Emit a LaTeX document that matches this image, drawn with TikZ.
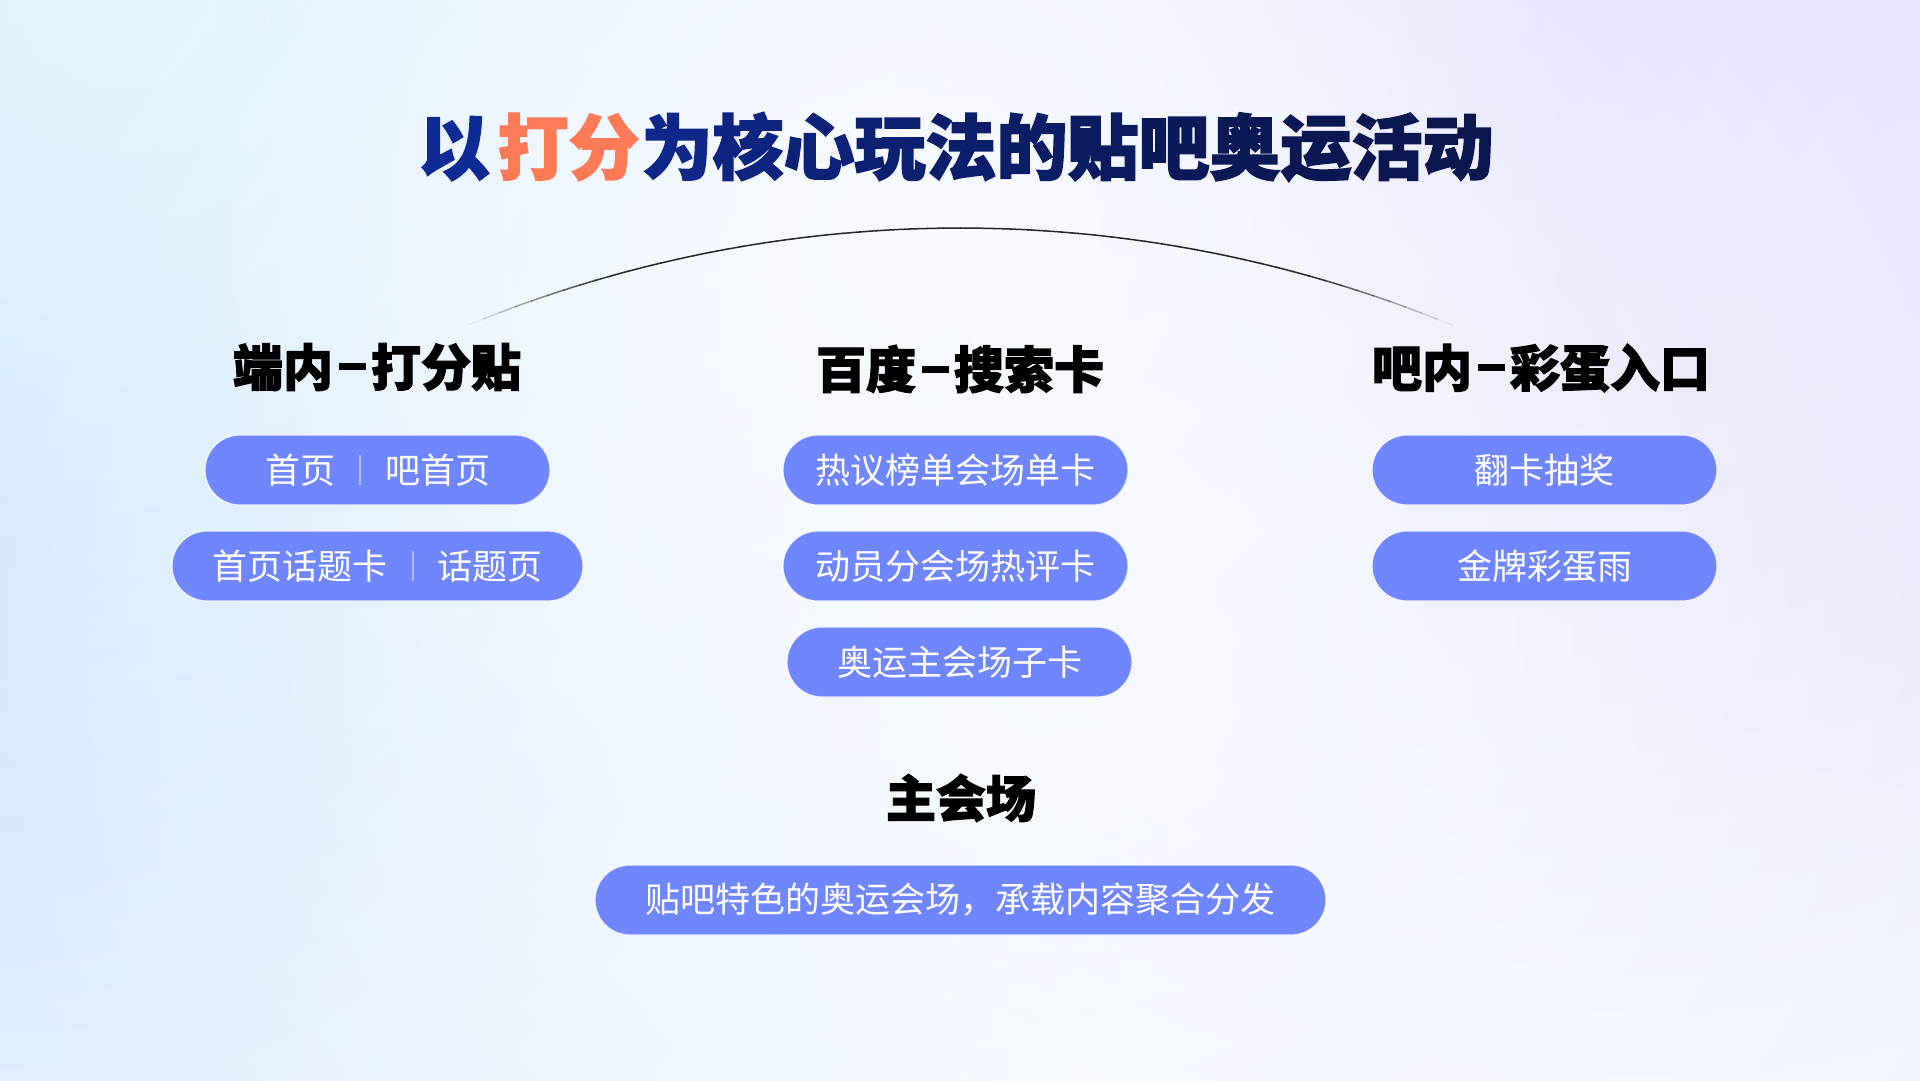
\documentclass[tikz,border=0pt]{standalone}
\usepackage{fontspec}
\setmainfont{Noto Sans CJK SC}
\newfontfamily\cjk{Noto Sans CJK SC}
\newfontfamily\cjkh{Noto Sans CJK SC}[BoldFeatures={FakeBold=2.2}]
\usetikzlibrary{fadings}
\definecolor{bgbase}{RGB}{242,248,254}
\definecolor{glowblue}{RGB}{206,229,253}
\definecolor{glowcyan}{RGB}{226,245,253}
\definecolor{glowlav}{RGB}{224,218,252}
\definecolor{glowlav2}{RGB}{236,228,252}
\definecolor{glowwhite}{RGB}{247,251,255}
\definecolor{pillfill}{RGB}{111,134,255}
\definecolor{sepc}{RGB}{196,206,255}
\definecolor{tA}{RGB}{14,42,148}
\definecolor{tB}{RGB}{10,22,78}
\definecolor{orng}{RGB}{255,122,86}
\definecolor{arcc}{RGB}{38,38,46}
\tikzfading[name=glow, inner color=transparent!0, outer color=transparent!100]
\newcommand{\sepbar}{\textcolor{sepc}{\rule[-1.7pt]{2pt}{30pt}}}
\newcommand{\tc}[2]{\textcolor{tB!#1!tA}{#2}}
\newcommand{\hdash}{\makebox[38pt]{\rule[15.5pt]{27pt}{7pt}}}
\tikzset{
  pill/.style={draw=white, draw opacity=0.8, line width=1.2pt, fill=pillfill,
    rounded corners=35pt, minimum height=70pt, text=white, inner sep=0pt,
    font=\cjk\fontsize{35pt}{40pt}\selectfont},
  heading/.style={text=black, inner sep=0pt, font=\cjkh\bfseries\fontsize{50pt}{56pt}\selectfont},
  titlestyle/.style={inner sep=0pt, font=\cjkh\bfseries\fontsize{71pt}{78pt}\selectfont},
  arcline/.style={draw=arcc, line width=1.5pt, line cap=butt}
}
\begin{document}
\begin{tikzpicture}[x=1pt,y=-1pt]
% background
\fill[bgbase] (0,0) rectangle (1920,1081);
\useasboundingbox (0,0) rectangle (1920,1081);
\begin{scope}
\clip (0,0) rectangle (1920,1081);
\fill[glowblue, path fading=glow] (0,440) circle (1250);
\fill[glowcyan, path fading=glow] (120,0) circle (900);
\fill[glowlav, path fading=glow] (1640,50) circle (1150);
\fill[glowlav2, path fading=glow] (1920,200) circle (650);
\fill[glowwhite, path fading=glow] (1050,640) circle (1100);
\fill[glowwhite, path fading=glow] (900,230) circle (700);
\end{scope}
% title
\node[titlestyle] (title) at (956,147)
  {\textcolor{tA}{以}\hspace{8pt}\textcolor{orng}{打分}\hspace{2pt}\tc{15}{为}\tc{28}{核}\tc{40}{心}\tc{50}{玩}\tc{58}{法}\tc{66}{的}\tc{74}{贴}\tc{82}{吧}\tc{88}{奥}\tc{94}{运}\tc{97}{活}\tc{100}{动}};
% arc
\coordinate (arcC) at (960,1524);
\foreach \i in {0,...,59}{
  \pgfmathsetmacro{\a}{-112.3+\i*44.6/60}
  \pgfmathsetmacro{\b}{\a+44.6/60+0.05}
  \pgfmathsetmacro{\op}{min(1,2.2*sin(180*(\i+0.5)/60))}
  \draw[arcline, draw opacity=\op, shift={(arcC)}] (\a:1296) arc[start angle=\a, end angle=\b, radius=1296];
}
% headings
\node[heading] (h1) at (377,367) {端内\hdash 打分贴};
\node[heading] (h2) at (960,369) {百度\hdash 搜索卡};
\node[heading] (h3) at (1541,368) {吧内\hdash 彩蛋入口};
\node[heading] (h4) at (961,798) {主会场};
% pills left
\node[pill, minimum width=345pt] (p11) at (377.5,470) {首页\hspace{24pt}\sepbar\hspace{24pt}吧首页};
\node[pill, minimum width=411pt] (p12) at (377.5,566) {首页话题卡\hspace{24pt}\sepbar\hspace{24pt}话题页};
% pills middle
\node[pill, minimum width=345pt] (p21) at (955.5,470) {热议榜单会场单卡};
\node[pill, minimum width=345pt] (p22) at (955.5,566) {动员分会场热评卡};
\node[pill, minimum width=345pt] (p23) at (959.5,662) {奥运主会场子卡};
% pills right
\node[pill, minimum width=345pt] (p31) at (1544.5,470) {翻卡抽奖};
\node[pill, minimum width=345pt] (p32) at (1544.5,566) {金牌彩蛋雨};
% bottom pill
\node[pill, minimum width=731pt] (p4) at (960.5,900) {贴吧特色的奥运会场，承载内容聚合分发};
\end{tikzpicture}
\end{document}
